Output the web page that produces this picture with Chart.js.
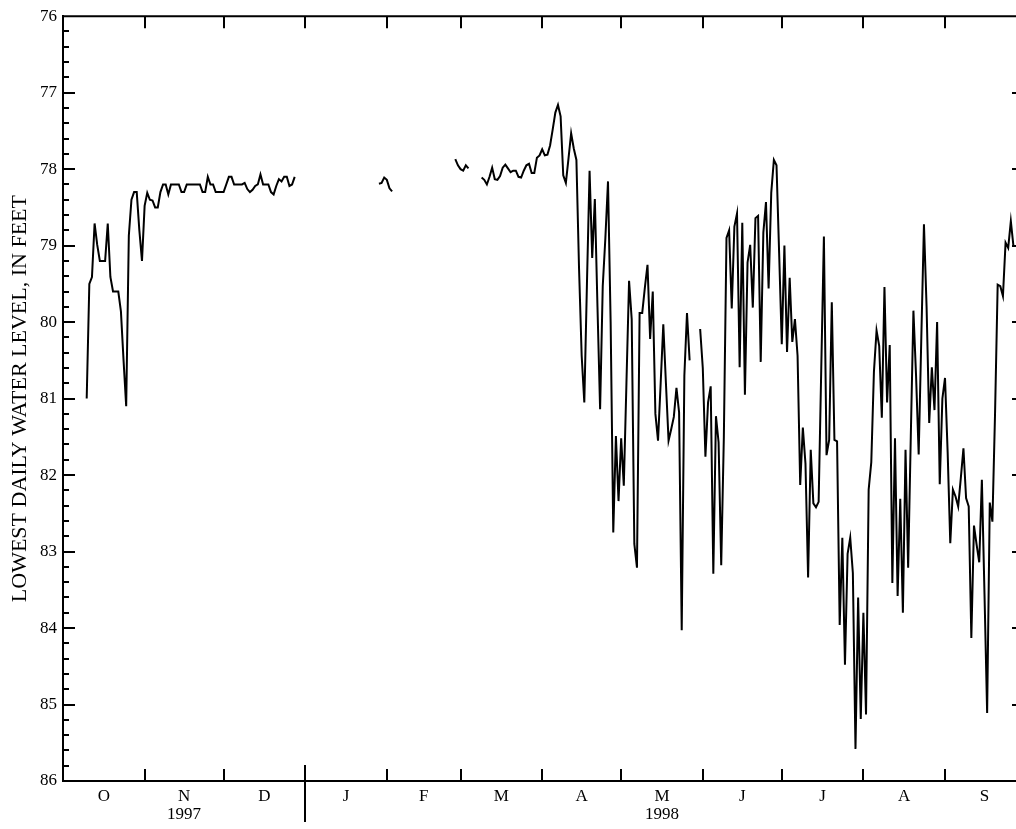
<!DOCTYPE html>
<html lang="en">
<head>
    <meta charset="UTF-8">
    <title>Lowest daily water level, 1997-98</title>
    <script src="https://cdn.jsdelivr.net/npm/chart.js"></script>
    <style>
        html, body { margin: 0; padding: 0; width: 1016px; height: 829px; overflow: hidden; background: #fff; }
        #levelChart { position: absolute; left: 0; top: 0; }
    </style>
</head>
<body>
    <canvas id="levelChart" width="1040" height="829"></canvas>

    <script>
        // Water year Oct 1997 - Sep 1998, one value per day (null = no record)
        const monthNames = ['O', 'N', 'D', 'J', 'F', 'M', 'A', 'M', 'J', 'J', 'A', 'S'];
        const monthDays = [31, 30, 31, 31, 28, 31, 30, 31, 30, 31, 31, 30];
        const yearLabels = { 1: '1997', 7: '1998' };
        const levelTicks = [76, 77, 78, 79, 80, 81, 82, 83, 84, 85, 86];

        const oct97 = [null, null, null, null, null, null, null, null, null,
            81.0, 79.5, 79.41, 78.71, 78.99, 79.2, 79.2, 79.2, 78.71, 79.41, 79.6, 79.6,
            79.6, 79.86, 80.5, 81.1, 78.87, 78.4, 78.3, 78.3, 78.8, 79.2];
        const nov97 = [78.48, 78.31, 78.4, 78.41, 78.5, 78.5, 78.3, 78.2, 78.2, 78.33,
            78.2, 78.2, 78.2, 78.2, 78.3, 78.3, 78.2, 78.2, 78.2, 78.2,
            78.2, 78.2, 78.3, 78.3, 78.1, 78.2, 78.2, 78.3, 78.3, 78.3];
        const dec97 = [78.3, 78.2, 78.1, 78.1, 78.2, 78.2, 78.2, 78.2, 78.18, 78.26,
            78.3, 78.27, 78.22, 78.2, 78.07, 78.2, 78.2, 78.2, 78.3, 78.33,
            78.22, 78.13, 78.16, 78.1, 78.1, 78.22, 78.2, 78.1, null, null, null];
        const jan98 = [null, null, null, null, null, null, null, null, null, null,
            null, null, null, null, null, null, null, null, null, null,
            null, null, null, null, null, null, null, null, 78.19, 78.18, 78.11];
        const feb98 = [78.14, 78.25, 78.29, null, null, null, null, null, null, null,
            null, null, null, null, null, null, null, null, null, null,
            null, null, null, null, null, null, 77.87, 77.95];
        const mar98 = [78.0, 78.02, 77.95, 77.99, null, null, null, null, 78.11, 78.14,
            78.2, 78.1, 77.98, 78.13, 78.14, 78.09, 77.98, 77.94, 77.99, 78.04,
            78.02, 78.02, 78.1, 78.11, 78.02, 77.95, 77.93, 78.05, 78.05, 77.85, 77.82];
        const apr98 = [77.74, 77.82, 77.81, 77.69, 77.48, 77.26, 77.16, 77.31, 78.08, 78.18,
            77.86, 77.53, 77.73, 77.88, 79.3, 80.44, 81.05, 79.5, 78.02, 79.16,
            78.39, 79.8, 81.14, 79.53, 78.9, 78.16, 80.0, 82.75, 81.49, 82.34];
        const may98 = [81.52, 82.14, 80.8, 79.46, 79.96, 82.9, 83.21, 79.88, 79.88, 79.55,
            79.25, 80.22, 79.6, 81.2, 81.55, 80.8, 80.03, 80.8, 81.55, 81.4,
            81.24, 80.86, 81.18, 84.03, 80.7, 79.88, 80.5, null, null, null, 80.09];
        const jun98 = [80.6, 81.76, 81.05, 80.84, 83.29, 81.23, 81.57, 83.18, 81.5, 78.9,
            78.8, 79.82, 78.75, 78.58, 80.59, 78.7, 80.95, 79.22, 78.99, 79.81,
            78.64, 78.61, 80.52, 78.83, 78.43, 79.56, 78.31, 77.88, 77.95, 79.1];
        const jul98 = [80.29, 79.0, 80.39, 79.42, 80.26, 79.96, 80.44, 82.13, 81.38, 81.85,
            83.34, 81.67, 82.37, 82.42, 82.35, 80.6, 78.88, 81.74, 81.54, 79.74,
            81.54, 81.56, 83.96, 82.82, 84.48, 83.03, 82.82, 83.28, 85.58, 83.6, 85.19];
        const aug98 = [83.8, 85.13, 82.19, 81.83, 80.65, 80.11, 80.31, 81.25, 79.54, 81.05,
            80.3, 83.41, 81.52, 83.58, 82.31, 83.8, 81.67, 83.21, 81.5, 79.85,
            80.7, 81.73, 80.2, 78.72, 79.8, 81.32, 80.59, 81.15, 80.0, 82.12, 81.0];
        const sep98 = [80.73, 81.7, 82.89, 82.19, 82.28, 82.41, 82.04, 81.65, 82.3, 82.41,
            84.13, 82.66, 82.91, 83.14, 82.06, 83.56, 85.11, 82.36, 82.61, 81.2,
            79.51, 79.53, 79.66, 78.96, 79.03, 78.68, 79.01, null, null, null];

        const levelsByMonth = [oct97, nov97, dec97, jan98, feb98, mar98, apr98, may98, jun98, jul98, aug98, sep98];

        // day offsets of month starts, plus end of year
        const monthStarts = [0];
        monthDays.forEach(n => monthStarts.push(monthStarts[monthStarts.length - 1] + n));
        const monthCenters = monthDays.map((n, i) => monthStarts[i] + n / 2);

        const points = [];
        levelsByMonth.forEach((arr, m) => {
            arr.forEach((v, i) => points.push({ x: monthStarts[m] + i, y: v }));
        });

        const serif = "'Liberation Serif', 'Times New Roman', serif";

        // inward tick marks on all four sides + the 1997/1998 divider
        const frameTicks = {
            id: 'frameTicks',
            afterDraw(chart) {
                const { ctx, chartArea: a, scales: { x, y } } = chart;
                ctx.save();
                ctx.strokeStyle = '#000';
                ctx.lineWidth = 2;
                ctx.beginPath();
                ctx.moveTo(a.left, a.top);
                ctx.lineTo(a.right, a.top);
                ctx.lineTo(a.right, a.bottom);
                ctx.stroke();

                ctx.beginPath();
                monthStarts.slice(1, -1).forEach(d => {
                    const px = Math.round(x.getPixelForValue(d));
                    ctx.moveTo(px, a.bottom);
                    ctx.lineTo(px, a.bottom - 12);
                    ctx.moveTo(px, a.top);
                    ctx.lineTo(px, a.top + 12);
                });
                for (let i = 1; i < 50; i++) {
                    const v = 76 + i * 0.2;
                    const py = Math.round(y.getPixelForValue(v));
                    const len = i % 5 === 0 ? 12 : 6;
                    ctx.moveTo(a.left, py);
                    ctx.lineTo(a.left + len, py);
                    ctx.moveTo(a.right, py);
                    ctx.lineTo(a.right - len, py);
                }
                const sx = Math.round(x.getPixelForValue(monthStarts[3]));
                ctx.moveTo(sx, a.bottom - 16);
                ctx.lineTo(sx, a.bottom + 41);
                ctx.stroke();
                ctx.restore();
            }
        };

        new Chart(document.getElementById('levelChart'), {
            type: 'line',
            data: {
                datasets: [{
                    label: 'Lowest daily water level',
                    data: points,
                    borderColor: '#000',
                    borderWidth: 2,
                    pointRadius: 0,
                    tension: 0,
                    spanGaps: false
                }]
            },
            options: {
                responsive: false,
                animation: false,
                devicePixelRatio: 1,
                layout: { padding: { top: 12, right: 16, left: 0, bottom: 0 } },
                plugins: { legend: { display: false }, tooltip: { enabled: false } },
                scales: {
                    x: {
                        type: 'linear',
                        min: 0,
                        max: 365,
                        grid: { display: false, drawTicks: false },
                        border: { display: true, color: '#000', width: 2 },
                        afterBuildTicks: s => { s.ticks = monthCenters.map(v => ({ value: v })); },
                        afterFit: s => { s.height = 48; },
                        ticks: {
                            autoSkip: false,
                            maxRotation: 0,
                            padding: 7,
                            color: '#000',
                            font: { family: serif, size: 17, lineHeight: 1.05 },
                            callback: (value, i) => yearLabels[i] ? [monthNames[i], yearLabels[i]] : monthNames[i]
                        }
                    },
                    y: {
                        type: 'linear',
                        reverse: true,
                        min: 76,
                        max: 86,
                        grid: { display: false, drawTicks: false },
                        border: { display: true, color: '#000', width: 2 },
                        afterBuildTicks: s => { s.ticks = levelTicks.map(v => ({ value: v })); },
                        afterFit: s => { s.width = 63; },
                        ticks: {
                            padding: 6,
                            color: '#000',
                            font: { family: serif, size: 17 }
                        },
                        title: {
                            display: true,
                            text: 'LOWEST DAILY WATER LEVEL, IN FEET',
                            color: '#000',
                            font: { family: serif, size: 22 },
                            padding: { top: 7, bottom: 0 }
                        }
                    }
                }
            },
            plugins: [frameTicks]
        });
    </script>
</body>
</html>
